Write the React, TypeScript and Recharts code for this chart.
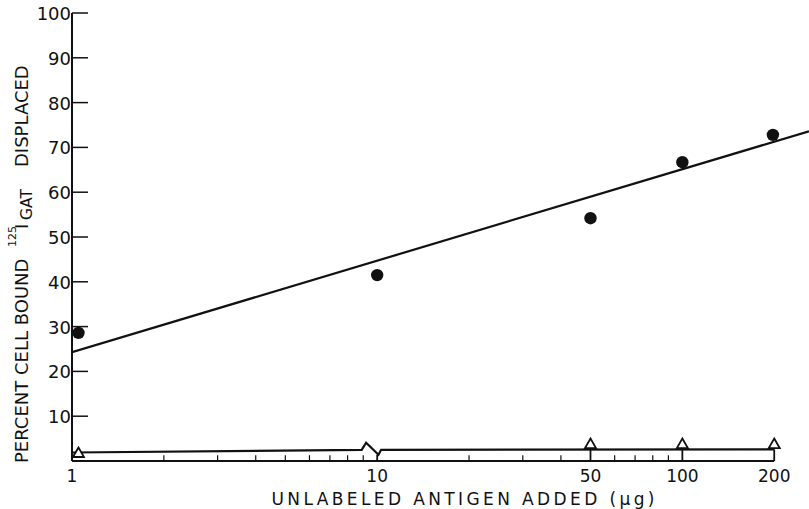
import { ComposedChart, Line, ReferenceLine, Scatter, XAxis, YAxis } from 'recharts';

// percent displaced vs. dose (µg), log x axis
const bindingPoints = [
  { dose: 1.05, pct: 28.6 },
  { dose: 10, pct: 41.5 },
  { dose: 50, pct: 54.2 },
  { dose: 100, pct: 66.7 },
  { dose: 198, pct: 72.8 },
];

const fitLine = [
  { dose: 1, pct: 24.3 },
  { dose: 260, pct: 73.6 },
];

const controlLine = [
  { dose: 1, pct: 1.9 },
  { dose: 8.9, pct: 2.5 },
  { dose: 9.2, pct: 4.1 },
  { dose: 10.1, pct: 1.4 },
  { dose: 10.3, pct: 2.5 },
  { dose: 200, pct: 2.6 },
];

const controlPoints = [
  { dose: 1.05, pct: 1.9 },
  { dose: 50, pct: 3.9 },
  { dose: 100, pct: 3.9 },
  { dose: 200, pct: 3.9 },
];

const xTicks = [1, 10, 50, 100, 200];
const minorTicks = [2, 3, 4, 5, 6, 7, 8, 9, 20, 30, 40, 60, 70, 80, 90];
const majorTicks = [
  { dose: 10, top: 1.4 },
  { dose: 50, top: 2.6 },
  { dose: 100, top: 2.6 },
  { dose: 200, top: 2.6 },
];
const yTicks = [10, 20, 30, 40, 50, 60, 70, 80, 90, 100];

const FONT = '"DejaVu Sans", sans-serif';
const INK = '#111';

function YTick(props: any) {
  const { x, y, payload } = props;
  return (
    <g>
      <line x1={x} x2={x + 16} y1={y} y2={y} stroke={INK} strokeWidth={1.5} />
      <text x={x - 1} y={y} dy={7} textAnchor="end" fontFamily={FONT} fontSize={18} fill={INK}>
        {payload.value}
      </text>
    </g>
  );
}

function XTick(props: any) {
  const { x, y, payload } = props;
  return (
    <text x={x} y={y} dy={21} textAnchor="middle" fontFamily={FONT} fontSize={17} fill={INK}>
      {payload.value}
    </text>
  );
}

function Triangle(props: any) {
  const { cx, cy } = props;
  return (
    <path
      d={`M${cx},${cy - 5} L${cx + 5.5},${cy + 4.5} L${cx - 5.5},${cy + 4.5} Z`}
      fill="#fff"
      stroke={INK}
      strokeWidth={1.8}
    />
  );
}

function Dot(props: any) {
  const { cx, cy } = props;
  return <circle cx={cx} cy={cy} r={6.2} fill={INK} />;
}

function YTitle() {
  const rot = (x: number, y: number) => `rotate(-90 ${x} ${y})`;
  return (
    <g fontFamily={FONT} fill={INK}>
      <text x={28} y={463} transform={rot(28, 463)} fontSize={18}>
        PERCENT CELL BOUND
      </text>
      <text x={16} y={247} transform={rot(16, 247)} fontSize={11}>
        125
      </text>
      <text x={28} y={229} transform={rot(28, 229)} fontSize={18}>
        I
      </text>
      <text x={32} y={220} transform={rot(32, 220)} fontSize={15.5}>
        GAT
      </text>
      <text x={28} y={167} transform={rot(28, 167)} fontSize={18}>
        DISPLACED
      </text>
    </g>
  );
}

function XTitle() {
  return (
    <text
      x={463}
      y={505}
      textAnchor="middle"
      fontFamily={FONT}
      fontSize={17}
      fill={INK}
      textLength={383}
      lengthAdjust="spacing"
    >
      UNLABELED ANTIGEN ADDED (μg)
    </text>
  );
}

export default function App() {
  return (
    <div style={{ position: 'absolute', left: 0, top: 0, width: 809, height: 509, background: '#fff' }}>
      <ComposedChart width={809} height={509} margin={{ top: 13, right: 0, bottom: 18, left: 0 }}>
        <XAxis
          dataKey="dose"
          type="number"
          scale="log"
          domain={[1, 260]}
          allowDataOverflow
          ticks={xTicks}
          tick={<XTick />}
          tickLine={false}
          axisLine={false}
          tickSize={0}
          tickMargin={0}
          height={30}
          label={{ content: () => <XTitle /> }}
        />
        <YAxis
          type="number"
          domain={[0, 100]}
          ticks={yTicks}
          tick={<YTick />}
          tickLine={false}
          tickSize={0}
          tickMargin={0}
          width={72}
          axisLine={{ stroke: INK, strokeWidth: 2 }}
          label={{ content: () => <YTitle /> }}
        />
        <ReferenceLine
          segment={[
            { x: 1, y: 0 },
            { x: 200, y: 0 },
          ]}
          stroke={INK}
          strokeWidth={2}
        />
        {minorTicks.map((d) => (
          <ReferenceLine
            key={`m${d}`}
            segment={[
              { x: d, y: 0 },
              { x: d, y: 1.3 },
            ]}
            stroke={INK}
            strokeWidth={1.2}
          />
        ))}
        {majorTicks.map((t) => (
          <ReferenceLine
            key={`M${t.dose}`}
            segment={[
              { x: t.dose, y: 0 },
              { x: t.dose, y: t.top },
            ]}
            stroke={INK}
            strokeWidth={1.8}
          />
        ))}
        <Line
          data={fitLine}
          dataKey="pct"
          type="linear"
          stroke={INK}
          strokeWidth={2.2}
          dot={false}
          activeDot={false}
          isAnimationActive={false}
        />
        <Line
          data={controlLine}
          dataKey="pct"
          type="linear"
          stroke={INK}
          strokeWidth={2.2}
          dot={false}
          activeDot={false}
          isAnimationActive={false}
        />
        <Scatter data={bindingPoints} dataKey="pct" shape={<Dot />} isAnimationActive={false} />
        <Scatter data={controlPoints} dataKey="pct" shape={<Triangle />} isAnimationActive={false} />
      </ComposedChart>
    </div>
  );
}
